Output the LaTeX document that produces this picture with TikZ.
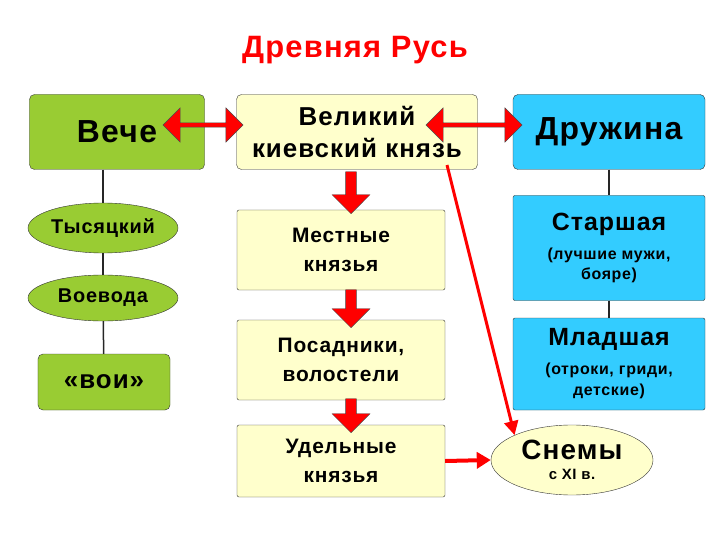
\documentclass[tikz,border=0pt]{standalone}
\usepackage{fontspec}
\setmainfont[LetterSpace=4]{Liberation Sans}
\usetikzlibrary{shapes.geometric,shapes.arrows,arrows.meta}
\definecolor{gr}{HTML}{99CC33}
\definecolor{yl}{HTML}{FFFFCC}
\definecolor{bl}{HTML}{33CCFF}
\definecolor{rd}{HTML}{FF0000}
\tikzset{
 bx/.style={draw=black!80,rounded corners=5pt,minimum width=#1,align=center,inner sep=0pt,font=\bfseries},
 el/.style={draw=black!80,ellipse,fill=gr,inner sep=0pt},
 blk/.style={single arrow,draw=black!70,fill=rd,single arrow head extend=8bp,minimum height=#1,minimum width=38bp,inner sep=3bp,shape border rotate=270},
 dbl/.style={double arrow,draw=black!70,fill=rd,double arrow head extend=15bp,minimum height=#1,minimum width=24bp,inner sep=2bp},
 ln/.style={black!85,line width=1.5bp}
}
\begin{document}
\begin{tikzpicture}[x=1bp,y=-1bp,every node/.append style={font=\bfseries}]
\useasboundingbox (0,0) rectangle (720,540);
\node[text=rd,font=\bfseries\fontsize{31}{34}\selectfont] (t) at (355,50) {Древняя Русь};
\node[bx=175bp,fill=gr,minimum height=75bp,font=\bfseries\fontsize{32}{34}\selectfont] (veche) at (117,132) {Вече};
\node[bx=241bp,fill=yl,minimum height=75bp,font=\bfseries\fontsize{26}{32}\selectfont] (kn) at (357,132) {Великий\\киевский князь};
\node[bx=192bp,fill=bl,minimum height=75bp,font=\bfseries\fontsize{32}{35}\selectfont] (dr) at (609,132) {Дружина};
\node[el,minimum width=150bp,minimum height=50bp,font=\bfseries\fontsize{20}{22}\selectfont] (tys) at (103,228) {Тысяцкий};
\node[el,minimum width=150bp,minimum height=46bp,font=\bfseries\fontsize{20}{22}\selectfont] (voe) at (103,298) {Воевода};
\node[bx=132bp,fill=gr,minimum height=56bp,font=\bfseries\fontsize{26}{28}\selectfont] (voi) at (104,382) {«вои»};
\node[bx=208bp,fill=yl,minimum height=80bp,rounded corners=2pt,font=\bfseries\fontsize{21}{29}\selectfont] (mk) at (341,250) {Местные\\князья};
\node[bx=208bp,fill=yl,minimum height=80bp,rounded corners=2pt,font=\bfseries\fontsize{21}{29}\selectfont] (pos) at (341,360) {Посадники,\\волостели};
\node[bx=208bp,fill=yl,minimum height=72bp,rounded corners=2pt,font=\bfseries\fontsize{21}{29}\selectfont] (ud) at (341,461) {Удельные\\князья};
\node[bx=192bp,fill=bl,minimum height=105bp,rounded corners=2pt,font=\bfseries\fontsize{16}{21}\selectfont] (st) at (609,248) {{\fontsize{25}{28}\selectfont Старшая}\\[8bp](лучшие мужи,\\бояре)};
\node[bx=192bp,fill=bl,minimum height=92bp,rounded corners=2pt,font=\bfseries\fontsize{16}{21}\selectfont] (ml) at (609,364) {{\fontsize{25}{28}\selectfont Младшая}\\[8bp](отроки, гриди,\\детские)};
\node[draw=black!80,ellipse,fill=yl,minimum width=162bp,minimum height=70bp,align=center,inner sep=0pt,font=\bfseries\fontsize{15}{18}\selectfont] (sn) at (572,460) {{\fontsize{28}{31}\selectfont Снемы}\\[2bp]с XI в.};
\node[dbl=80bp] (a1) at (203,125) {};
\node[dbl=96bp] (a2) at (474,125) {};
\node[blk=42bp] (d1) at (351,190) {};
\node[blk=38bp] (d2) at (351,306) {};
\node[blk=34bp] (d3) at (351,413) {};
\draw[ln] (veche.south -| tys.north) -- (tys.north);
\draw[ln] (tys) -- (voe);
\draw[ln] (voe) -- (voi);
\draw[ln] (dr.south -| st.north) -- (st.north);
\draw[ln] (st) -- (ml);
\coordinate (s1) at (447,165);
\draw[rd,line width=3bp,-{Triangle[length=14bp,width=14bp]}] (s1) -- (sn.north west);
\draw[rd,line width=4bp,-{Triangle[length=14bp,width=16bp]}] (ud.east) -- (sn.west);
\end{tikzpicture}
\end{document}
